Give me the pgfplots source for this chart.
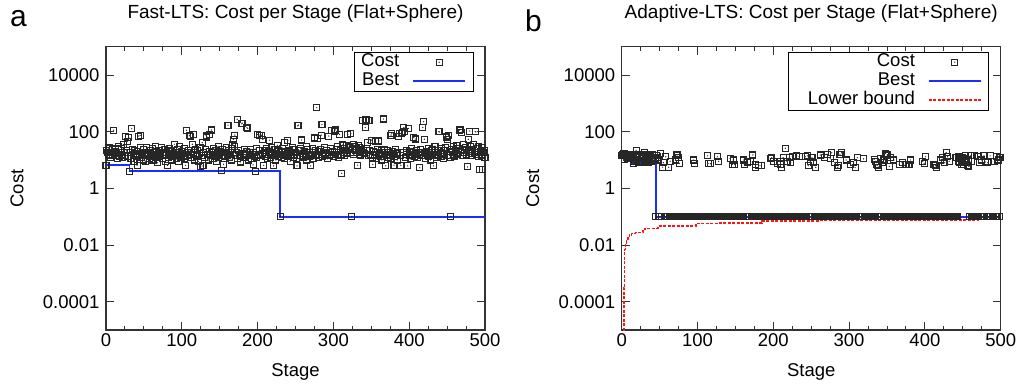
\documentclass[border=0pt]{standalone}
\usepackage{fontspec}
\setmainfont{Liberation Sans}
\usepackage{pgfplots}
\usepackage{pgfplotstable}
\pgfplotsset{compat=1.18}

\definecolor{bestblue}{RGB}{25,45,255}
\definecolor{lbred}{RGB}{255,20,20}

\pgfdeclareplotmark{sqd}{%
  \pgfpathrectangle{\pgfqpoint{-\pgfplotmarksize}{-\pgfplotmarksize}}{\pgfqpoint{2\pgfplotmarksize}{2\pgfplotmarksize}}%
  \pgfusepathqstroke
  \pgfpathcircle{\pgfpointorigin}{0.7pt}%
  \pgfusepathqfill
}

% Fast-LTS cost per stage (stage = row index 0..500)
\pgfplotstableread[row sep=\\]{y\\
6.6\\22\\18\\25\\15\\28\\12\\19\\24\\16\\
112\\20\\14\\26\\17\\11\\23\\30\\13\\19\\
16\\25\\12\\35\\18\\14\\70\\21\\45\\13\\
62\\4\\19\\11\\127\\24\\15\\9\\22\\17\\
13\\6.6\\20\\70\\16\\75\\28\\12\\18\\10\\
23\\15\\9\\19\\27\\14\\17\\11\\21\\13\\
16\\25\\10\\18\\14\\31\\12\\20\\8\\17\\
22\\13\\15\\28\\11\\19\\16\\24\\9\\14\\
18\\6.5\\21\\12\\26\\15\\10\\20\\13\\17\\
36\\14\\19\\11\\23\\16\\9\\30\\15\\12\\
20\\17\\13\\25\\11\\6.5\\112\\18\\14\\22\\
75\\67\\16\\12\\36\\80\\19\\10\\24\\15\\
13\\21\\9\\17\\28\\6\\14\\41\\6.2\\19\\
12\\23\\75\\65\\16\\10\\80\\20\\14\\115\\
18\\11\\26\\15\\13\\22\\9\\17\\30\\12\\
16\\20\\4.3\\14\\24\\7\\11\\19\\13\\27\\
15\\170\\21\\12\\18\\10\\25\\36\\54\\29\\
76\\14\\19\\275\\11\\22\\16\\8.5\\13\\190\\
200\\17\\12\\24\\15\\20\\140\\130\\10\\18\\
14\\23\\11\\16\\6.7\\19\\13\\4\\26\\12\\
80\\15\\21\\76\\14\\75\\17\\54\\6.5\\22\\
13\\18\\25\\11\\16\\20\\50\\12\\28\\15\\
19\\6.2\\14\\23\\10\\17\\33\\13\\21\\16\\
0.1\\12\\18\\26\\15\\11\\41\\20\\14\\17\\
50\\13\\22\\9\\19\\16\\28\\12\\24\\15\\
18\\11\\6.2\\160\\170\\21\\14\\25\\51\\13\\
17\\12\\20\\15\\30\\10\\23\\16\\13\\19\\
6.2\\14\\26\\18\\11\\60\\22\\15\\700\\58\\
12\\20\\16\\24\\76\\180\\13\\19\\28\\15\\
17\\22\\11\\18\\70\\14\\25\\16\\110\\20\\
13\\105\\19\\115\\24\\16\\30\\12\\80\\21\\
15\\3.4\\34\\18\\26\\14\\22\\33\\17\\80\\
28\\31\\19\\85\\0.1\\24\\35\\16\\30\\21\\
26\\18\\6.6\\32\\20\\28\\15\\24\\240\\19\\
22\\17\\140\\260\\25\\41\\14\\250\\21\\16\\
50\\12\\7\\20\\15\\45\\18\\11\\23\\14\\
47\\17\\13\\21\\10\\19\\280\\16\\24\\6.2\\
14\\22\\12\\18\\15\\11\\76\\85\\20\\16\\
6.6\\13\\24\\17\\10\\19\\70\\85\\14\\6.5\\
85\\95\\18\\140\\105\\12\\22\\16\\6.2\\130\\
15\\20\\11\\25\\14\\18\\62\\13\\55\\17\\
21\\12\\19\\16\\5.3\\23\\14\\18\\140\\225\\
54\\17\\11\\20\\15\\26\\13\\19\\10\\22\\
16\\24\\6.2\\14\\31\\18\\12\\21\\15\\100\\
98\\19\\13\\25\\17\\11\\22\\16\\28\\65\\
14\\54\\75\\20\\12\\0.1\\24\\18\\15\\30\\
13\\21\\17\\33\\16\\26\\110\\120\\19\\95\\
22\\14\\35\\18\\28\\15\\24\\5.7\\54\\20\\
105\\30\\17\\23\\14\\36\\19\\100\\98\\16\\
25\\13\\31\\4.7\\20\\15\\28\\4.7\\18\\22\\
12\\}\fastcost

% Adaptive-LTS cost per stage (stage = row index 0..500)
\pgfplotstableread[row sep=\\]{y\\
14.7\\16\\15\\17\\10.5\\14\\12\\15\\11\\13\\
16\\12\\11\\14\\12\\7.6\\13\\9\\15\\22\\
10\\12\\8\\14\\16\\9\\11\\13\\8.5\\15\\
18\\10\\12\\9\\14\\8\\11\\13\\16\\9\\
12\\15\\10\\14\\11\\0.1\\14\\12\\0.1\\10\\
0.1\\17\\0.1\\0.1\\5.6\\8\\0.1\\0.1\\13\\0.1\\
0.1\\0.1\\5.6\\0.1\\9\\0.1\\0.1\\0.1\\0.1\\0.1\\
0.1\\10\\0.1\\15\\0.1\\12.5\\7.6\\0.1\\0.1\\0.1\\
0.1\\0.1\\0.1\\0.1\\0.1\\0.1\\0.1\\0.1\\0.1\\0.1\\
0.1\\0.1\\0.1\\0.1\\0.1\\10\\7.6\\0.1\\0.1\\0.1\\
0.1\\0.1\\0.1\\0.1\\0.1\\0.1\\0.1\\0.1\\0.1\\0.1\\
0.1\\0.1\\0.1\\14\\7.6\\0.1\\0.1\\7.4\\0.1\\0.1\\
0.1\\0.1\\0.1\\0.1\\0.1\\0.1\\13\\0.1\\9\\0.1\\
0.1\\0.1\\0.1\\0.1\\0.1\\0.1\\0.1\\0.1\\0.1\\0.1\\
0.1\\0.1\\0.1\\11\\0.1\\0.1\\7\\10\\0.1\\7\\
0.1\\0.1\\0.1\\0.1\\0.1\\0.1\\0.1\\0.1\\0.1\\0.1\\
0.1\\10\\7\\0.1\\0.1\\0.1\\8.5\\0.1\\0.1\\0.1\\
9\\0.1\\0.1\\15\\0.1\\0.1\\7\\5.5\\0.1\\0.1\\
0.1\\6.5\\0.1\\0.1\\6.4\\0.1\\0.1\\0.1\\0.1\\0.1\\
0.1\\0.1\\0.1\\0.1\\0.1\\0.1\\11\\0.1\\12\\0.1\\
9\\0.1\\0.1\\0.1\\0.1\\7.5\\0.1\\0.1\\0.1\\9\\
7\\5.5\\0.1\\12\\0.1\\0.1\\26\\0.1\\9\\0.1\\
0.1\\12\\0.1\\8\\0.1\\13\\0.1\\0.1\\0.1\\0.1\\
0.1\\14\\0.1\\0.1\\13\\0.1\\0.1\\0.1\\0.1\\0.1\\
0.1\\0.1\\13\\0.1\\0.1\\14\\6.3\\0.1\\0.1\\9\\
0.1\\12\\0.1\\8\\0.1\\0.1\\5.5\\0.1\\0.1\\0.1\\
0.1\\0.1\\15\\0.1\\0.1\\0.1\\0.1\\0.1\\12\\0.1\\
0.1\\16\\0.1\\0.1\\0.1\\11\\0.1\\18\\0.1\\0.1\\
0.1\\8\\0.1\\0.1\\0.1\\5.5\\6.5\\0.1\\16\\0.1\\
18\\0.1\\0.1\\0.1\\0.1\\0.1\\10\\0.1\\0.1\\0.1\\
0.1\\0.1\\6.8\\0.1\\0.1\\0.1\\8\\0.1\\5.5\\0.1\\
0.1\\12\\0.1\\0.1\\0.1\\0.1\\0.1\\0.1\\0.1\\11\\
0.1\\0.1\\0.1\\0.1\\0.1\\0.1\\0.1\\0.1\\0.1\\0.1\\
0.1\\0.1\\0.1\\10.5\\0.1\\9\\7\\6.5\\0.1\\5.6\\
0.1\\0.1\\11\\0.1\\8\\0.1\\10\\0.1\\17\\0.1\\
15\\0.1\\0.1\\6\\0.1\\12\\0.1\\0.1\\0.1\\10\\
0.1\\0.1\\0.1\\0.1\\0.1\\0.1\\7\\0.1\\0.1\\0.1\\
8\\0.1\\0.1\\0.1\\0.1\\7\\0.1\\0.1\\0.1\\7\\
0.1\\10\\0.1\\0.1\\0.1\\0.1\\0.1\\0.1\\0.1\\0.1\\
0.1\\0.1\\0.1\\0.1\\0.1\\0.1\\0.1\\9\\0.1\\7.6\\
0.1\\13\\0.1\\0.1\\0.1\\0.1\\0.1\\0.1\\0.1\\0.1\\
0.1\\0.1\\7\\0.1\\6.5\\5.6\\0.1\\0.1\\0.1\\0.1\\
0.1\\10\\0.1\\12\\0.1\\0.1\\8\\0.1\\18\\0.1\\
13\\0.1\\9\\0.1\\0.1\\0.1\\0.1\\0.1\\0.1\\0.1\\
0.1\\12\\0.1\\0.1\\9\\13\\8\\11\\7\\10\\
12\\7\\9\\14\\11\\8\\6.5\\10\\6\\0.1\\
14\\9\\0.1\\0.1\\0.1\\0.1\\14\\0.1\\0.1\\0.1\\
13\\0.1\\8\\0.1\\0.1\\10\\0.1\\0.1\\14\\0.1\\
8.5\\0.1\\0.1\\8\\0.1\\0.1\\14\\0.1\\9\\0.1\\
0.1\\0.1\\9\\0.1\\13\\0.1\\0.1\\10\\0.1\\12\\
12\\}\adaptcost

\newcommand{\chartfont}{\fontsize{18.5}{22}\selectfont}

\pgfplotsset{
  every axis/.append style={
    scale only axis, width=379pt, height=283.3pt,
    tick align=inside, major tick length=8pt, minor tick length=4pt,
    every tick/.style={black!80, line width=1pt},
    axis line style={black!80, line width=1.4pt},
    tick label style={font=\chartfont},
    yticklabel style={xshift=-3pt},
    label style={font=\chartfont},
    title style={font=\fontsize{19}{22}\selectfont},
    clip=false,
    legend cell align=right, legend plot pos=right,
    legend style={at={(1,1)}, anchor=north east, xshift=-11.5pt, yshift=-5pt,
      draw=black, line width=1pt, fill=white, inner xsep=7pt, inner ysep=2pt,
      row sep=3pt, column sep=13pt,
      nodes={inner sep=0pt, text height=12.5pt, text depth=3.5pt, font=\chartfont}},
  },
}
\pgfplotsset{legend image code/.code={\draw[mark repeat=2,mark phase=2,#1] plot coordinates {(0pt,0pt)(26pt,0pt)(52pt,0pt)};}}

\begin{document}
\begin{tikzpicture}
\useasboundingbox (0,0) rectangle (1020pt,383pt);

\node[anchor=base west, inner sep=0pt, font=\fontsize{30}{32}\selectfont] at (10pt,356pt) {a};
\node[anchor=base west, inner sep=0pt, font=\fontsize{30}{32}\selectfont] at (525pt,351pt) {b};

\begin{axis}[at={(106pt,53pt)}, anchor=south west,
  xmin=0, xmax=500, ymode=log, ymin=1e-5, ymax=1e5,
  xtick={0,100,200,300,400,500}, minor x tick num=3,
  xticklabels={\mbox{0},\mbox{100},\mbox{200},\mbox{300},\mbox{400},\mbox{500}},
  ytick={1e-4,1e-2,1,1e2,1e4},
  yticklabels={\mbox{0.0001},\mbox{0.01},\mbox{1},\mbox{100},\mbox{10000}},
  yminorticks=false,
  xlabel={Stage}, ylabel={Cost},
  xlabel style={at={(axis description cs:0.5,-0.1624)}, anchor=base},
  ylabel style={at={(axis description cs:-0.2182,0.5)}, anchor=base},
  title style={at={(axis description cs:0.5,1.0766)}, anchor=base},
  title={Fast-LTS: Cost per Stage (Flat+Sphere)}]
\addplot[only marks, mark=sqd, mark size=3pt, color=black!85, mark options={line width=1.1pt, solid}] table[x expr=\coordindex, y=y] {\fastcost};
\addlegendentry{Cost}
\addplot[const plot, color=bestblue, line width=1.8pt] coordinates {(0,6.6)(31,4)(230,0.1)(500,0.1)};
\addlegendentry{Best}
\end{axis}

\begin{axis}[at={(621.7pt,53pt)}, anchor=south west,
  xmin=0, xmax=500, ymode=log, ymin=1e-5, ymax=1e5,
  xtick={0,100,200,300,400,500}, minor x tick num=3,
  xticklabels={\mbox{0},\mbox{100},\mbox{200},\mbox{300},\mbox{400},\mbox{500}},
  ytick={1e-4,1e-2,1,1e2,1e4},
  yticklabels={\mbox{0.0001},\mbox{0.01},\mbox{1},\mbox{100},\mbox{10000}},
  yminorticks=false,
  xlabel={Stage}, ylabel={Cost},
  xlabel style={at={(axis description cs:0.5,-0.1624)}, anchor=base},
  ylabel style={at={(axis description cs:-0.2182,0.5)}, anchor=base},
  title style={at={(axis description cs:0.5,1.0766)}, anchor=base},
  title={Adaptive-LTS: Cost per Stage (Flat+Sphere)}]
\addplot[only marks, mark=sqd, mark size=3pt, color=black!85, mark options={line width=1.1pt, solid}] table[x expr=\coordindex, y=y] {\adaptcost};
\addlegendentry{Cost}
\addplot[const plot, color=bestblue, line width=1.8pt] coordinates {(0,14.7)(4,10.5)(15,7.6)(45,0.1)(500,0.1)};
\addlegendentry{Best}
\addplot[const plot, color=lbred, line width=1.5pt, dash pattern=on 3pt off 1.5pt] coordinates {(2,1e-5)(3,0.0003)(4,0.007)(5,0.012)(6,0.016)(8,0.02)(10,0.023)(13,0.026)(18,0.028)(28,0.031)(31,0.039)(48,0.047)(98,0.058)(130,0.06)(185,0.071)(260,0.074)(390,0.076)(470,0.078)(500,0.078)};
\addlegendentry{\hspace*{12pt}Lower bound}
\end{axis}
\end{tikzpicture}
\end{document}
